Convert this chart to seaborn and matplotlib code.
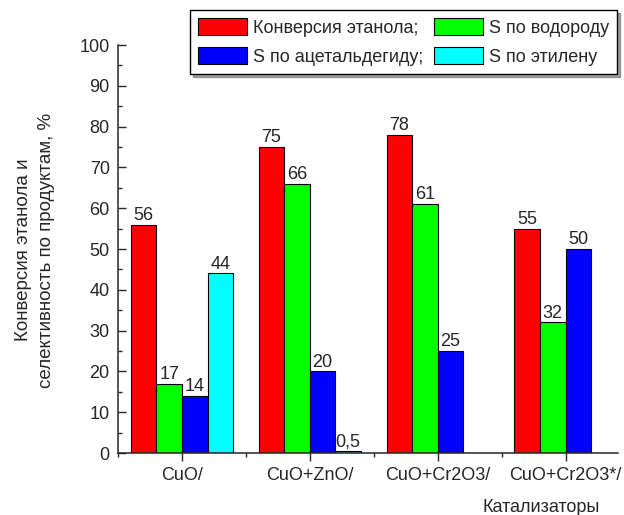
import pandas as pd
import numpy as np
import matplotlib
matplotlib.use('Agg')
import matplotlib.pyplot as plt
from matplotlib.ticker import MultipleLocator, FixedLocator
import seaborn as sns

# данные
catalysts = ['CuO/', 'CuO+ZnO/', 'CuO+Cr2O3/', 'CuO+Cr2O3*/']
series_names = ['Конверсия этанола;', 'S по водороду', 'S по ацетальдегиду;', 'S по этилену']
conversion = [56, 75, 78, 55]
s_hydrogen = [17, 66, 61, 32]
s_acetaldehyde = [14, 20, 25, 50]
s_ethylene = [44, 0.5, 0, 0]
colors = ['#ff0000', '#00ff00', '#0000ff', '#00ffff']

values = [conversion, s_hydrogen, s_acetaldehyde, s_ethylene]
df = pd.DataFrame({
    'catalyst': np.tile(catalysts, len(series_names)),
    'series': np.repeat(series_names, len(catalysts)),
    'value': np.concatenate(values),
})

sns.set_style('ticks')
plt.rcParams['font.family'] = ['Liberation Sans', 'DejaVu Sans']

fig = plt.figure(figsize=(6.24, 5.15), dpi=100)
ax = fig.add_axes([118 / 624, 1 - 453 / 515, 500 / 624, 408 / 515])

sns.barplot(data=df, x='catalyst', y='value', hue='series', palette=colors,
            edgecolor='black', linewidth=0.8, saturation=1, ax=ax)

# подписи значений
def fmt(v):
    if v == 0:
        return ''
    if float(v).is_integer():
        return str(int(v))
    return str(v).replace('.', ',')

for cont, vals in zip(ax.containers, values):
    ax.bar_label(cont, labels=[fmt(v) for v in vals], padding=0.5, fontsize=13)

ax.set_xlim(-0.5, 3.41)
ax.set_ylim(0, 100)
ax.yaxis.set_major_locator(MultipleLocator(10))
ax.yaxis.set_minor_locator(MultipleLocator(5))
ax.xaxis.set_minor_locator(FixedLocator([-0.5, 0.5, 1.5, 2.5]))
ax.tick_params(axis='y', which='major', direction='in', length=6, width=1, pad=6, labelsize=13)
ax.tick_params(axis='y', which='minor', direction='in', length=3, width=1)
ax.tick_params(axis='x', which='major', direction='out', length=6, width=1, pad=4, labelsize=13)
ax.tick_params(axis='x', which='minor', direction='out', length=3, width=1)
sns.despine(ax=ax)
for sp in ['left', 'bottom']:
    ax.spines[sp].set_linewidth(1.1)

ax.set_ylabel('')
ax.set_xlabel('Катализаторы', fontsize=13)
ax.xaxis.set_label_coords((541 - 118) / 500, -(499 - 453) / 408)

fig.text(35 / 624, 1 - 250 / 515, 'Конверсия этанола и\nселективность по продуктам, %',
         rotation=90, ha='center', va='center', fontsize=13.5, linespacing=1.5,
         multialignment='center')

# легенда построчно: порядок для заполнения по столбцам
handles, labels = ax.get_legend_handles_labels()
ax.get_legend().remove()
order = [0, 2, 1, 3]
leg = fig.legend([handles[i] for i in order], [labels[i] for i in order], ncol=2,
                 loc='upper right', bbox_to_anchor=(617 / 624, 1 - 10 / 515),
                 bbox_transform=fig.transFigure, borderaxespad=0, fontsize=13,
                 frameon=True, fancybox=False, shadow=True,
                 handlelength=2.7, handleheight=1.05, handletextpad=0.33,
                 columnspacing=0.6, labelspacing=0.6, borderpad=0.45)
leg.get_frame().set_edgecolor('black')
leg.get_frame().set_linewidth(1)
leg.get_frame().set_alpha(1)

fig.savefig('out.png', dpi=100)
